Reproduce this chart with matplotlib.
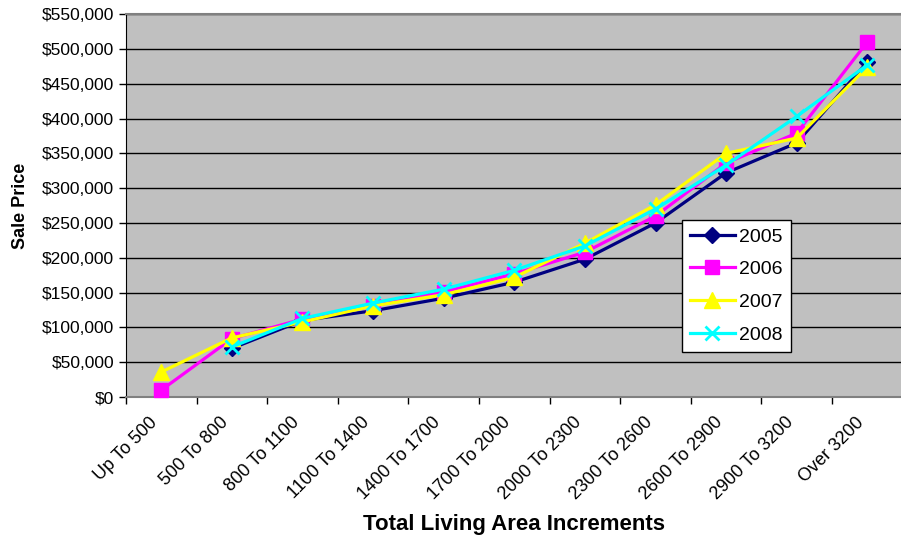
import numpy as np
import matplotlib
matplotlib.use("Agg")
import matplotlib.pyplot as plt
from matplotlib.ticker import FuncFormatter, FixedLocator

plt.rcParams["font.family"] = ["Liberation Sans", "DejaVu Sans"]

# Data
categories = ["Up To 500", "500 To 800", "800 To 1100", "1100 To 1400",
              "1400 To 1700", "1700 To 2000", "2000 To 2300", "2300 To 2600",
              "2600 To 2900", "2900 To 3200", "Over 3200"]
price_2005 = [np.nan, 70000, 110000, 124000, 142000, 165000, 198000, 250000, 322000, 365000, 481000]
price_2006 = [10000, 84000, 112000, 131000, 151000, 177000, 208000, 260000, 336000, 379000, 510000]
price_2007 = [36000, 85000, 108000, 131000, 147000, 172000, 221000, 276000, 350000, 372000, 474000]
price_2008 = [np.nan, 72000, 113000, 135000, 155000, 182000, 217000, 270000, 333000, 403000, 477000]

series = [
    ("2005", price_2005, "#000080", "D", 8),
    ("2006", price_2006, "#FF00FF", "s", 10),
    ("2007", price_2007, "#FFFF00", "^", 11),
    ("2008", price_2008, "#00FFFF", "x", 10),
]

fig = plt.figure(figsize=(9.01, 5.41), dpi=100)
ax = fig.add_axes([0.1398, 0.266, 0.862, 0.708])
ax.set_facecolor("#C0C0C0")

x = np.arange(len(categories))
for name, vals, color, marker, ms in series:
    ax.plot(x, vals, color=color, lw=2.3, marker=marker, markersize=ms,
            markeredgewidth=2 if marker == "x" else 1,
            markeredgecolor=color, label=name, clip_on=False, zorder=3)

ax.set_xlim(-0.5, len(categories) - 0.5)
ax.set_ylim(0, 550000)
ax.set_yticks(np.arange(0, 550001, 50000))
ax.yaxis.set_major_formatter(FuncFormatter(lambda v, p: "${:,.0f}".format(v)))
ax.grid(axis="y", color="black", lw=1)
ax.set_axisbelow(True)

# category ticks between categories; rotated labels nudged left so the
# end of each label sits just left of the category centre
ax.xaxis.set_major_locator(FixedLocator(np.arange(-0.5, len(categories) - 0.4, 1)))
ax.xaxis.set_major_formatter(plt.NullFormatter())
ax.set_xticks(x - 0.17, minor=True)
ax.set_xticklabels(categories, minor=True, rotation=45, ha="right",
                   rotation_mode="anchor", fontsize=13)
ax.tick_params(axis="x", which="minor", length=0, pad=12)
ax.tick_params(axis="x", which="major", length=5, width=1, color="black")
ax.tick_params(axis="y", length=5, width=1, labelsize=12.5, color="black")

for side in ["top", "right", "bottom"]:
    ax.spines[side].set_color("#808080")
ax.spines["top"].set_linewidth(1.5)
ax.spines["bottom"].set_linewidth(1.5)
ax.spines["right"].set_visible(False)
ax.spines["left"].set_color("black")

ax.set_ylabel("Sale Price", fontsize=13, fontweight="bold", labelpad=9)
ax.set_xlabel("Total Living Area Increments", fontsize=16, fontweight="bold", labelpad=8)

leg = ax.legend(loc="upper left", bbox_to_anchor=(0.716, 0.462), fontsize=14,
                frameon=True, fancybox=False, framealpha=1, edgecolor="black",
                handlelength=2.3, handletextpad=0.25, borderpad=0.4,
                labelspacing=0.78, borderaxespad=0)
leg.get_frame().set_linewidth(1)

fig.savefig("out.png", dpi=100)
